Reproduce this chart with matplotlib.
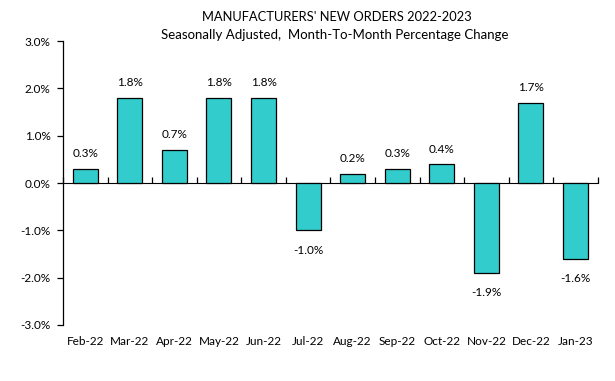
import matplotlib.pyplot as plt
import numpy as np

months = ['Feb-22', 'Mar-22', 'Apr-22', 'May-22', 'Jun-22', 'Jul-22',
          'Aug-22', 'Sep-22', 'Oct-22', 'Nov-22', 'Dec-22', 'Jan-23']
changes = [0.3, 1.8, 0.7, 1.8, 1.8, -1.0, 0.2, 0.3, 0.4, -1.9, 1.7, -1.6]
yticks = [-3, -2, -1, 0, 1, 2, 3]

plt.rcParams['font.family'] = ['Lato', 'DejaVu Sans']

fig = plt.figure(figsize=(6.15, 3.81), dpi=100)
ax = fig.add_axes([0.1024, 0.147, 0.8696, 0.745])

x = np.arange(len(months))
ax.bar(x, changes, width=0.56, color='#33CCCC', edgecolor='black', linewidth=0.9, zorder=2)

for xi, v in zip(x, changes):
    if v >= 0:
        ax.text(xi, v + 0.2, f'{v:.1f}%', ha='center', va='bottom', fontsize=8.5)
    else:
        ax.text(xi, v - 0.3, f'{v:.1f}%', ha='center', va='top', fontsize=8.5)

ax.set_xlim(-0.5, len(months) - 0.5)
ax.set_ylim(-3, 3)
ax.set_yticks(yticks)
ax.set_yticklabels([f'{t:.1f}%' for t in yticks], fontsize=8.5)
ax.tick_params(axis='y', direction='out', length=4, width=0.9, pad=5)

ax.set_xticks(x)
ax.set_xticklabels(months, fontsize=8.5)
ax.tick_params(axis='x', length=0, pad=8)

for s in ['top', 'right', 'bottom']:
    ax.spines[s].set_visible(False)
ax.spines['left'].set_linewidth(0.9)

# zero line with category boundary ticks
zero = ax.secondary_xaxis(0.5)
zero.set_xticks(np.arange(len(months) + 1) - 0.5)
zero.set_xticklabels([])
zero.tick_params(direction='out', length=4, width=0.9)
zero.spines['bottom'].set_linewidth(0.9)

fig.text(0.548, 0.955, "MANUFACTURERS' NEW ORDERS 2022-2023", ha='center', va='center', fontsize=9.3)
fig.text(0.545, 0.908, 'Seasonally Adjusted,  Month-To-Month Percentage Change', ha='center', va='center', fontsize=9.5)

fig.savefig('out.png', dpi=100)
